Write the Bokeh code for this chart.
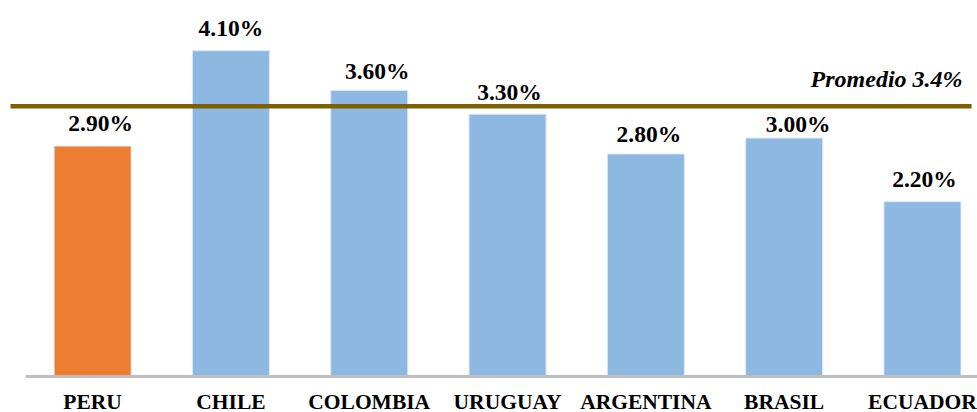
from bokeh.plotting import figure
from bokeh.models import Range1d, FixedTicker, ColumnDataSource
from bokeh.core.properties import value
from bokeh.embed import file_html
from bokeh.resources import INLINE

# Data
countries = ["PERU", "CHILE", "COLOMBIA", "URUGUAY", "ARGENTINA", "BRASIL", "ECUADOR"]
rates = [2.9, 4.1, 3.6, 3.3, 2.8, 3.0, 2.2]
average = 3.4
average_label = "Promedio 3.4%"

# Styling
BLUE = "#8DB8E2"
ORANGE = "#ED7D31"
colors = [ORANGE] + [BLUE] * (len(countries) - 1)
# small hand-placed nudges of the value labels (pixels)
label_dx = [8, 0, 8, 2, 3, 14, 2]
label_dy = [-23, -23, -19, -22, -20, -14, -23]

xs = list(range(len(countries)))
src = ColumnDataSource(dict(
    x=xs, top=rates, color=colors,
    label=[f"{v:.2f}%" for v in rates],
    dx=label_dx, dy=label_dy,
))

p = figure(
    frame_width=977, frame_height=376,
    x_range=Range1d(-0.666, 6.398), y_range=Range1d(0, 4.731),
    output_backend="svg", toolbar_location=None,
    y_axis_location=None,
    min_border_left=0, min_border_right=0, min_border_top=0, min_border_bottom=0,
)
p.outline_line_color = None
p.xgrid.visible = False
p.ygrid.visible = False
p.background_fill_color = "white"
p.border_fill_color = "white"

p.vbar(x="x", top="top", bottom=0, width=0.557, source=src,
       fill_color="color", line_color="#DCE9F6", line_width=1)

p.text(x="x", y="top", text="label", source=src,
       x_offset="dx", y_offset="dy",
       text_align="center", text_baseline="alphabetic",
       text_font=value("Liberation Serif"), text_font_style="bold",
       text_font_size="23.5px", text_color="black")

# average line with its caption
p.segment(x0=-0.594, y0=average, x1=6.355, y1=average,
          line_color="#7F6000", line_width=4.5)
p.text(x=[6.29], y=[average], text=[average_label],
       y_offset=-27, text_align="right", text_baseline="alphabetic",
       text_font=value("Liberation Serif"), text_font_style="bold italic",
       text_font_size="24px", text_color="black")

ax = p.xaxis[0]
ax.ticker = FixedTicker(ticks=xs)
ax.major_label_overrides = {i: c for i, c in zip(xs, countries)}
ax.bounds = (-0.485, 6.5)
ax.axis_line_color = "#BFBFBF"
ax.axis_line_width = 3
ax.major_tick_line_color = None
ax.minor_tick_line_color = None
ax.major_tick_out = 0
ax.major_label_standoff = 13
ax.major_label_text_font = "Liberation Serif"
ax.major_label_text_font_style = "bold"
ax.major_label_text_font_size = "21.5px"
ax.major_label_text_color = "black"

open("out.html", "w").write(file_html(p, INLINE))
